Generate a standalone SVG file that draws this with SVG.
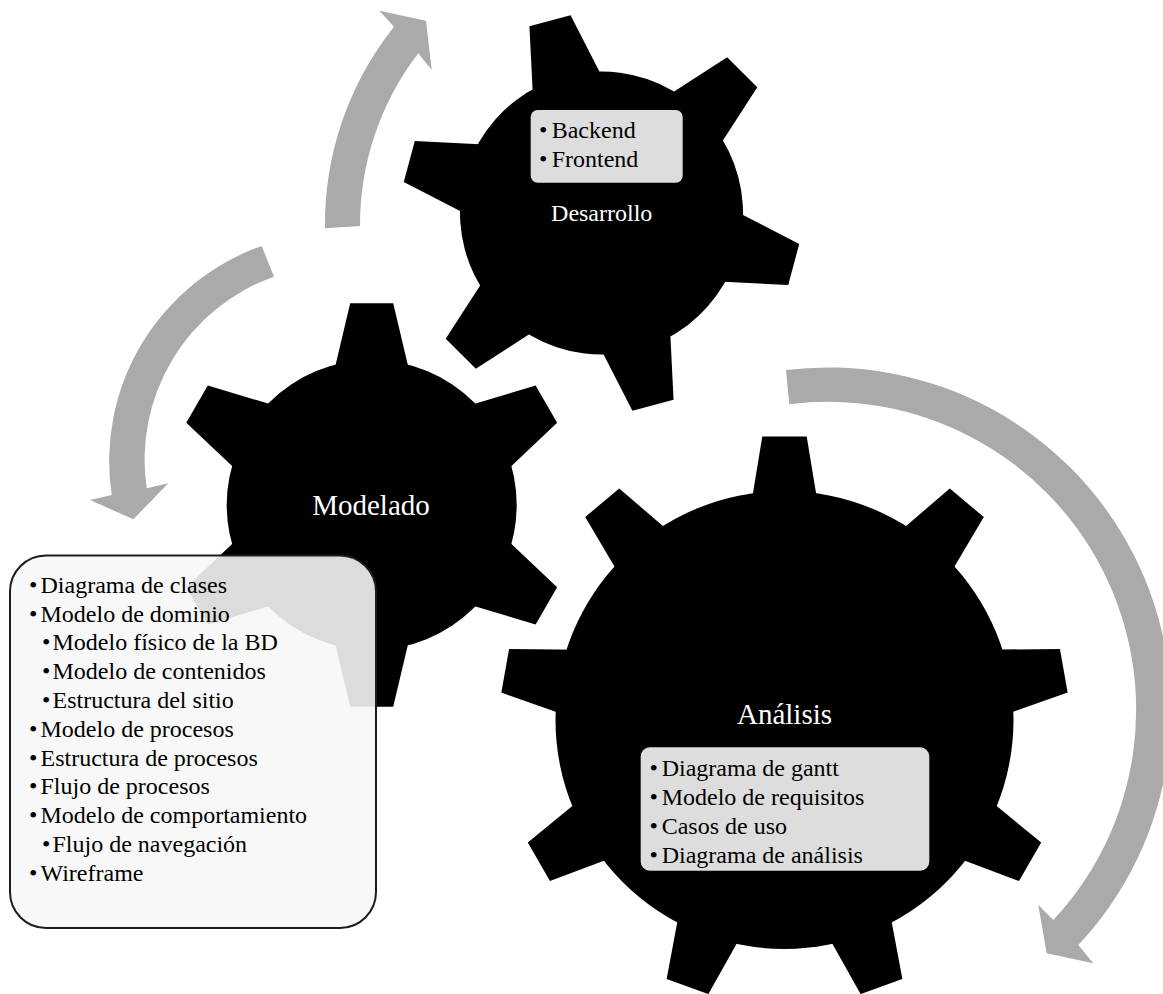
<svg xmlns="http://www.w3.org/2000/svg" xmlns:xlink="http://www.w3.org/1999/xlink" width="1163" height="994" viewBox="0 0 1163 994">
  <style>
    .gear { fill: #000000; }
    .arrow { fill: #aaaaaa; }
    .label { font-family: "Liberation Serif", "Times New Roman", serif; fill: #ffffff; text-anchor: middle; }
    .item { font-family: "Liberation Serif", "Times New Roman", serif; font-size: 24px; fill: #000000; }
    .panel { fill: #dddddd; }
    .panel-big { fill: #f7f7f7; fill-opacity: 0.89; stroke: #1c1c1c; stroke-width: 2; }
  </style>
  <defs>
    <!-- tooth shapes, pointing up from the gear centre -->
    <polygon id="tooth-m" points="-39,-128 -21.5,-201.7 21.5,-201.7 39,-128"/>
    <polygon id="tooth-d" points="-37,-126 -21.3,-199 21.3,-199 37,-126"/>
    <polygon id="tooth-a" points="-34,-212 -22.2,-283.6 22.2,-283.6 34,-212"/>
  </defs>

  <!-- circular arrows between the stages -->
  <g id="connectors">
    <path id="arrow-modelado-desarrollo" class="arrow" d="M325,228.3 A317,317 0 0 1 394,26.7 L379.3,10.7 L426,20.7 L431.7,70 L418.3,53.3 A282,282 0 0 0 360,226 Z"/>
    <path id="arrow-desarrollo-modelado" class="arrow" d="M261.7,246 A228,228 0 0 0 111.7,495 L90,500 L133.3,519.3 L168.3,483.3 L146.7,488.3 A194,194 0 0 1 274,276.7 Z"/>
    <path id="arrow-analisis" class="arrow" d="M786,370 A343,343 0 0 1 1078.3,945 L1093.3,963.3 L1046.7,953.3 L1038.3,905 L1053.3,920 A308,308 0 0 0 789.3,404.3 Z"/>
  </g>

  <!-- Análisis: large nine-tooth gear -->
  <g id="node-analisis">
    <g class="gear" transform="translate(784.5,720)">
      <circle r="229"/>
      <use xlink:href="#tooth-a"/>
      <use xlink:href="#tooth-a" transform="rotate(40)"/>
      <use xlink:href="#tooth-a" transform="rotate(80)"/>
      <use xlink:href="#tooth-a" transform="rotate(120)"/>
      <use xlink:href="#tooth-a" transform="rotate(160)"/>
      <use xlink:href="#tooth-a" transform="rotate(200)"/>
      <use xlink:href="#tooth-a" transform="rotate(240)"/>
      <use xlink:href="#tooth-a" transform="rotate(280)"/>
      <use xlink:href="#tooth-a" transform="rotate(320)"/>
    </g>
    <text class="label" x="784.5" y="724" font-size="29">Análisis</text>
    <rect class="panel" x="640.7" y="747.3" width="288.6" height="123.4" rx="9"/>
    <text class="item">
      <tspan x="649.5" y="776">•</tspan><tspan x="661.7" y="776">Diagrama de gantt</tspan>
      <tspan x="649.5" y="805">•</tspan><tspan x="661.7" y="805">Modelo de requisitos</tspan>
      <tspan x="649.5" y="834">•</tspan><tspan x="661.7" y="834">Casos de uso</tspan>
      <tspan x="649.5" y="863">•</tspan><tspan x="661.7" y="863">Diagrama de análisis</tspan>
    </text>
  </g>

  <!-- Modelado: six-tooth gear with its detail list -->
  <g id="node-modelado">
    <g class="gear" transform="translate(371.7,505)">
      <circle r="145"/>
      <use xlink:href="#tooth-m"/>
      <use xlink:href="#tooth-m" transform="rotate(60)"/>
      <use xlink:href="#tooth-m" transform="rotate(120)"/>
      <use xlink:href="#tooth-m" transform="rotate(180)"/>
      <use xlink:href="#tooth-m" transform="rotate(240)"/>
      <use xlink:href="#tooth-m" transform="rotate(300)"/>
    </g>
    <text class="label" x="371" y="515" font-size="29">Modelado</text>
    <rect class="panel-big" x="10" y="555.5" width="366" height="372.5" rx="36"/>
    <text class="item">
      <tspan x="29" y="592.7">•</tspan><tspan x="40.5" y="592.7">Diagrama de clases</tspan>
      <tspan x="29" y="621.5">•</tspan><tspan x="40.5" y="621.5">Modelo de dominio</tspan>
      <tspan x="42" y="650.3">•</tspan><tspan x="52.5" y="650.3">Modelo físico de la BD</tspan>
      <tspan x="42" y="679.1">•</tspan><tspan x="52.5" y="679.1">Modelo de contenidos</tspan>
      <tspan x="42" y="707.9">•</tspan><tspan x="52.5" y="707.9">Estructura del sitio</tspan>
      <tspan x="29" y="736.7">•</tspan><tspan x="40.5" y="736.7">Modelo de procesos</tspan>
      <tspan x="29" y="765.5">•</tspan><tspan x="40.5" y="765.5">Estructura de procesos</tspan>
      <tspan x="29" y="794.3">•</tspan><tspan x="40.5" y="794.3">Flujo de procesos</tspan>
      <tspan x="29" y="823.1">•</tspan><tspan x="40.5" y="823.1">Modelo de comportamiento</tspan>
      <tspan x="42" y="851.9">•</tspan><tspan x="52.5" y="851.9">Flujo de navegación</tspan>
      <tspan x="29" y="880.7">•</tspan><tspan x="40.5" y="880.7">Wireframe</tspan>
    </text>
  </g>

  <!-- Desarrollo: six-tooth gear, turned slightly -->
  <g id="node-desarrollo">
    <g class="gear" transform="translate(601.5,213) rotate(-15)">
      <circle r="141.5"/>
      <use xlink:href="#tooth-d"/>
      <use xlink:href="#tooth-d" transform="rotate(60)"/>
      <use xlink:href="#tooth-d" transform="rotate(120)"/>
      <use xlink:href="#tooth-d" transform="rotate(180)"/>
      <use xlink:href="#tooth-d" transform="rotate(240)"/>
      <use xlink:href="#tooth-d" transform="rotate(300)"/>
    </g>
    <rect class="panel" x="530.7" y="110" width="152" height="72.7" rx="7"/>
    <text class="item">
      <tspan x="539" y="137.7">•</tspan><tspan x="551.7" y="137.7">Backend</tspan>
      <tspan x="539" y="166.7">•</tspan><tspan x="551.7" y="166.7">Frontend</tspan>
    </text>
    <text class="label" x="601.7" y="220.7" font-size="24">Desarrollo</text>
  </g>
</svg>
